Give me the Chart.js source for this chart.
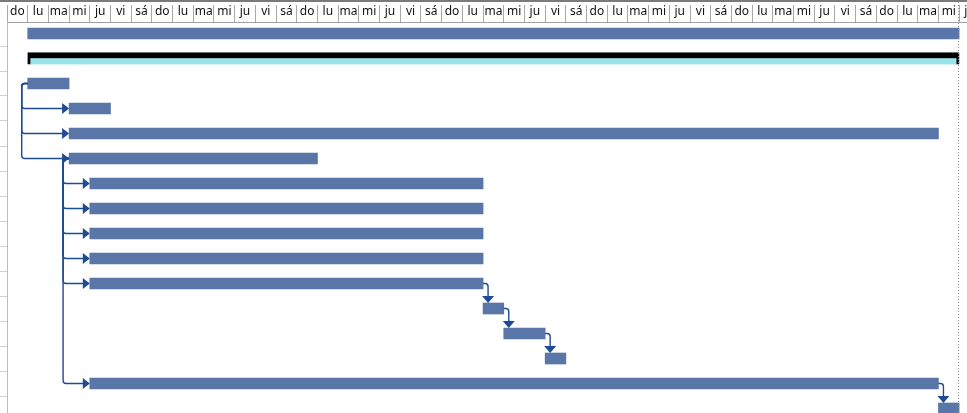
<!DOCTYPE html>
<html>
<head>
<meta charset="utf-8">
<script src="https://cdn.jsdelivr.net/npm/chart.js@4/dist/chart.umd.min.js"></script>
<style>
  html, body { margin: 0; padding: 0; background: #fff; overflow: hidden; }
  #wrap { width: 967px; height: 411px; border-top: 2px solid #7a7a7a; position: relative; }
</style>
</head>
<body>
<div id="wrap"><canvas id="gantt"></canvas></div>
<script>
// timescale: one tick per day, day 0 is the first "do"
const weekDays = ['do', 'lu', 'ma', 'mi', 'ju', 'vi', 'sá'];
const dayTicks = [];
for (let d = 0; d <= 46; d++) dayTicks.push(d);
const dayLabels = dayTicks.map(d => weekDays[d % 7]);

// task bars (row = line in the gantt, start / end in days)
const taskRows  = [0, 2, 3, 4, 5, 6, 7, 8, 9, 10, 11, 12, 13, 14, 15];
const taskStart = [1, 1, 3, 3, 3, 4, 4, 4, 4, 4, 23, 24, 26, 4, 45];
const taskEnd   = [46, 3, 5, 45, 15, 23, 23, 23, 23, 23, 24, 26, 27, 45, 46];

// project summary bar
const projectRow = 1;
const projectStart = 1;
const projectEnd = 46;
const projectFinish = 46;

// links between rows: SS drawn from the left, FS from the end
const linkFrom = [2, 2, 2, 5, 5, 5, 5, 5, 5, 10, 11, 12, 14];
const linkTo   = [3, 4, 5, 6, 7, 8, 9, 10, 14, 11, 12, 13, 15];
const linkType = ['SS', 'SS', 'SS', 'SS', 'SS', 'SS', 'SS', 'SS', 'SS', 'FS', 'FS', 'FS', 'FS'];

const rowBounds = [];
for (let r = 0; r < 15; r++) rowBounds.push(r + 0.5);

const barColor = '#5A76A8';
const linkColor = '#1F4B93';

function rowStart(row) { return taskStart[taskRows.indexOf(row)]; }
function rowEnd(row) { return taskEnd[taskRows.indexOf(row)]; }

const connectors = {
  id: 'connectors',
  afterDatasetsDraw(chart) {
    const ctx = chart.ctx;
    const xs = chart.scales.x;
    const ys = chart.scales.y;
    const r = 3;
    ctx.save();
    ctx.strokeStyle = linkColor;
    ctx.fillStyle = linkColor;
    ctx.lineWidth = 1.4;
    for (let i = 0; i < linkFrom.length; i++) {
      const yA = ys.getPixelForValue(linkFrom[i]);
      const yB = ys.getPixelForValue(linkTo[i]);
      if (linkType[i] === 'SS') {
        const xA = xs.getPixelForValue(rowStart(linkFrom[i]));
        const xB = xs.getPixelForValue(rowStart(linkTo[i]));
        const xv = xA - 6;
        ctx.beginPath();
        ctx.moveTo(xA, yA);
        ctx.arcTo(xv, yA, xv, yB, r);
        ctx.arcTo(xv, yB, xB, yB, r);
        ctx.lineTo(xB - 6, yB);
        ctx.stroke();
        ctx.beginPath();
        ctx.moveTo(xB, yB);
        ctx.lineTo(xB - 7, yB - 5.5);
        ctx.lineTo(xB - 7, yB + 5.5);
        ctx.closePath();
        ctx.fill();
      } else {
        const xA = xs.getPixelForValue(rowEnd(linkFrom[i]));
        const xv = xA + 5;
        const yTop = yB - 5.5;
        ctx.beginPath();
        ctx.moveTo(xA, yA);
        ctx.arcTo(xv, yA, xv, yTop, r);
        ctx.lineTo(xv, yTop - 6);
        ctx.stroke();
        ctx.beginPath();
        ctx.moveTo(xv, yTop);
        ctx.lineTo(xv - 6, yTop - 7);
        ctx.lineTo(xv + 6, yTop - 7);
        ctx.closePath();
        ctx.fill();
      }
    }
    // project finish line
    const xf = Math.round(xs.getPixelForValue(projectFinish)) - 0.5;
    ctx.strokeStyle = '#8a8a8a';
    ctx.lineWidth = 1;
    ctx.setLineDash([1, 2]);
    ctx.beginPath();
    ctx.moveTo(xf, 0);
    ctx.lineTo(xf, chart.height);
    ctx.stroke();
    ctx.restore();
  }
};

chart = new Chart(document.getElementById('gantt'), {
  type: 'bar',
  data: {
    datasets: [
      {
        data: taskRows.map((row, i) => ({ x: [taskStart[i], taskEnd[i]], y: row })),
        backgroundColor: barColor,
        barThickness: 11,
        grouped: false,
        borderWidth: 0
      },
      {
        data: [{ x: [projectStart, projectEnd], y: projectRow }],
        backgroundColor: '#98E4E8',
        borderColor: '#000',
        borderWidth: { top: 6, left: 3, right: 3, bottom: 0 },
        borderSkipped: false,
        barThickness: 12,
        grouped: false
      }
    ]
  },
  options: {
    indexAxis: 'y',
    responsive: true,
    maintainAspectRatio: false,
    animation: false,
    layout: { padding: 0 },
    plugins: {
      legend: { display: false },
      tooltip: { enabled: false }
    },
    scales: {
      x: {
        type: 'linear',
        position: 'top',
        min: 0,
        max: 46.38,
        afterBuildTicks: (scale) => { scale.ticks = dayTicks.map(v => ({ value: v })); },
        afterFit: (scale) => { scale.height = 20; scale.paddingLeft = 0; scale.paddingRight = 0; },
        grid: { drawOnChartArea: false, tickLength: 17, color: '#a8a8a8' },
        border: { display: true, color: '#a0a0a0' },
        ticks: {
          autoSkip: false,
          maxRotation: 0,
          padding: -14,
          labelOffset: 10.35,
          color: '#111',
          font: { family: 'Noto Sans', size: 12 },
          callback: (v) => dayLabels[v]
        }
      },
      y: {
        type: 'linear',
        reverse: true,
        offset: false,
        min: -0.46,
        max: 15.18,
        afterBuildTicks: (scale) => { scale.ticks = rowBounds.map(v => ({ value: v })); },
        afterFit: (scale) => { scale.width = 7; },
        grid: { drawOnChartArea: false, offset: false, tickLength: 7, color: '#cfcfcf' },
        border: { display: true, color: '#bdbdbd' },
        ticks: { display: false }
      }
    }
  },
  plugins: [connectors]
});
</script>
</body>
</html>
